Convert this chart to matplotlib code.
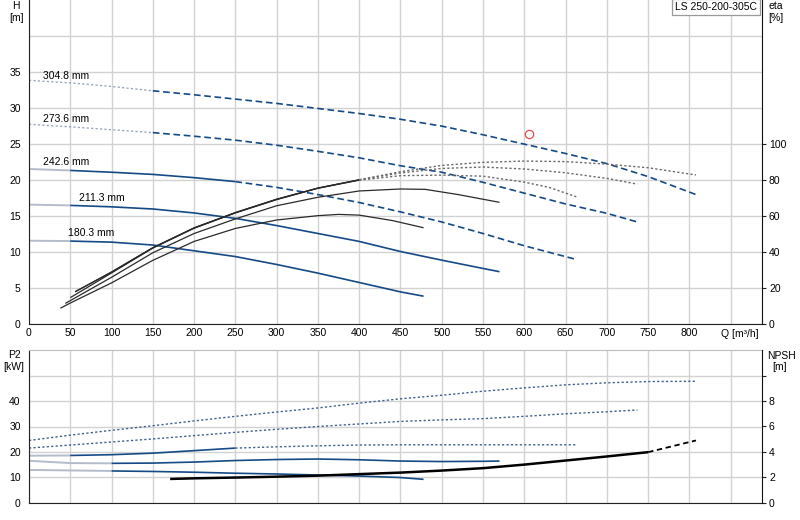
import matplotlib
matplotlib.use("Agg")
import matplotlib.pyplot as plt

plt.rcParams["font.family"] = ["Liberation Sans", "DejaVu Sans"]
plt.rcParams["font.size"] = 7.5

# impeller diameters
diameters = ["304.8 mm", "273.6 mm", "242.6 mm", "211.3 mm", "180.3 mm"]

# flow grids for head and power (m3/h)
q_305 = [0, 50, 100, 150, 200, 250, 300, 350, 400, 450, 500, 550, 600, 650, 700, 750, 808]
q_274 = [0, 50, 100, 150, 200, 250, 300, 350, 400, 450, 500, 550, 600, 650, 700, 737]
q_243 = [0, 50, 100, 150, 200, 250, 300, 350, 400, 450, 500, 550, 600, 663]
q_211 = [0, 50, 100, 150, 200, 250, 300, 350, 400, 450, 500, 550, 570]
q_180 = [0, 50, 100, 150, 200, 250, 300, 350, 400, 450, 478]

# head H (m)
h_305 = [33.85, 33.5, 33.0, 32.4, 31.85, 31.25, 30.65, 29.95, 29.25, 28.45, 27.5, 26.3, 25.0, 23.7, 22.3, 20.5, 18.0]
h_274 = [27.75, 27.4, 27.0, 26.6, 26.1, 25.55, 24.85, 24.0, 23.1, 22.0, 21.1, 19.7, 18.2, 16.7, 15.4, 14.2]
h_243 = [21.55, 21.35, 21.1, 20.8, 20.35, 19.8, 19.0, 18.0, 16.9, 15.6, 14.2, 12.6, 10.9, 9.0]
h_211 = [16.6, 16.5, 16.3, 16.0, 15.45, 14.7, 13.7, 12.6, 11.5, 10.1, 8.9, 7.75, 7.3]
h_180 = [11.6, 11.55, 11.4, 11.0, 10.2, 9.4, 8.3, 7.1, 5.8, 4.5, 3.9]

# shaft power P2 (kW)
p2_305 = [24.5, 26.6, 28.5, 30.3, 32.2, 34.0, 35.7, 37.3, 39.2, 40.9, 42.3, 43.9, 45.2, 46.4, 47.2, 47.7, 47.8]
p2_274 = [21.5, 22.7, 23.9, 25.1, 26.4, 27.7, 28.9, 30.0, 31.0, 32.0, 32.6, 33.1, 34.0, 35.0, 35.8, 36.5]
p2_243 = [18.5, 18.6, 18.9, 19.5, 20.5, 21.5, 22.0, 22.4, 22.7, 22.8, 22.8, 22.8, 22.8, 22.8]
p2_211 = [16.5, 15.6, 15.5, 15.6, 16.0, 16.6, 17.0, 17.2, 16.9, 16.4, 16.2, 16.3, 16.4]
p2_180 = [12.9, 12.7, 12.5, 12.3, 12.0, 11.6, 11.3, 10.9, 10.5, 9.9, 9.2]

# efficiency eta (%)
q_eta_305 = [56, 100, 150, 200, 250, 300, 350, 400, 450, 500, 550, 600, 650, 700, 750, 808]
eta_305 = [18.1, 29.0, 42.5, 53.5, 62.0, 69.4, 75.6, 80.2, 84.7, 88.2, 89.9, 90.6, 90.3, 88.9, 86.9, 82.9]
q_eta_274 = [56, 100, 150, 200, 250, 300, 350, 400, 450, 500, 550, 600, 650, 700, 737]
eta_274 = [18.1, 29.0, 42.5, 53.5, 62.0, 69.4, 75.6, 80.2, 84.0, 86.5, 87.3, 86.2, 84.1, 81.0, 77.8]
q_eta_243 = [50, 100, 150, 200, 250, 300, 350, 400, 450, 500, 550, 600, 630, 663]
eta_243 = [14.8, 28.5, 42.3, 53.3, 61.8, 69.2, 75.5, 80.0, 82.5, 82.8, 82.2, 78.9, 76.0, 70.8]
q_eta_211 = [44, 100, 150, 200, 250, 300, 350, 400, 450, 480, 520, 570]
eta_211 = [11.6, 26.1, 39.7, 50.4, 58.5, 65.8, 70.5, 74.0, 75.1, 74.9, 72.0, 67.7]
q_eta_180 = [38, 50, 100, 150, 200, 250, 300, 350, 375, 400, 440, 478]
eta_180 = [8.9, 11.8, 23.0, 35.5, 46.0, 53.2, 57.9, 60.3, 61.0, 60.6, 57.6, 53.6]

# NPSH (m)
q_npsh = [171, 200, 250, 300, 350, 400, 450, 500, 550, 600, 650, 700, 750, 808]
npsh = [1.87, 1.92, 1.98, 2.05, 2.13, 2.25, 2.37, 2.53, 2.72, 3.0, 3.32, 3.64, 3.98, 4.9]

# duty point
duty_q = [606]
duty_h = [26.4]

x_ticks = list(range(0, 851, 50))

BLUE = "#154a87"
LIGHT = "#b4bccb"
DOT = (0, (1.6, 1.6))
DASH = (0, (4, 2.2))

st_light_dot = dict(color="#9aa7bd", ls=DOT, lw=1.0)
st_light = dict(color=LIGHT, ls="-", lw=1.4)
st_blue = dict(color=BLUE, ls="-", lw=1.2)
st_blue_dash = dict(color=BLUE, ls=DASH, lw=1.2)
st_blue_dot = dict(color="#3f628f", ls=DOT, lw=1.0)
st_eta = dict(color="#2a2a2a", ls="-", lw=0.9)
st_eta_dot = dict(color="#6a6a6a", ls=DOT, lw=1.0)


def draw(ax, q, v, pieces):
    """pieces: list of (q_end, style); segments share their break point."""
    start = q[0]
    for q_end, style in pieces:
        xs = [a for a in q if start <= a <= q_end]
        ys = [b for a, b in zip(q, v) if start <= a <= q_end]
        ax.plot(xs, ys, solid_capstyle="butt", dash_capstyle="butt", **style)
        start = q_end


def style_axes(ax):
    ax.set_xlim(0, 888)
    ax.set_xticks(x_ticks)
    ax.grid(True, color="#d2d2d2", lw=1.0)
    ax.set_axisbelow(True)
    ax.tick_params(axis="both", length=0, pad=3, labelsize=7.5)
    for s in ("left", "bottom"):
        ax.spines[s].set_color("#222222")
    ax.spines["right"].set_visible(False)


fig = plt.figure(figsize=(8, 5.2), dpi=100)
ax_h = fig.add_axes([29 / 800, 1 - 324.3 / 520, 733 / 800, 324.3 / 520])
ax_p = fig.add_axes([29 / 800, 1 - 502.7 / 520, 733 / 800, 152.4 / 520])

# ---- head / efficiency panel
style_axes(ax_h)
ax_h.spines["top"].set_visible(False)
ax_h.set_ylim(0, 45)
ax_h.set_yticks(range(0, 41, 5))
ax_h.set_yticklabels([str(v) for v in range(0, 36, 5)] + [""])
ax_h.set_xticklabels([str(v) for v in x_ticks[:-1]] + [""])
ax_h.tick_params(axis="y", pad=6)

draw(ax_h, q_305, h_305, [(150, st_light_dot), (808, st_blue_dash)])
draw(ax_h, q_274, h_274, [(150, st_light_dot), (737, st_blue_dash)])
draw(ax_h, q_243, h_243, [(50, st_light), (250, st_blue), (663, st_blue_dash)])
draw(ax_h, q_211, h_211, [(50, st_light), (570, st_blue)])
draw(ax_h, q_180, h_180, [(50, st_light), (478, st_blue)])

label_pos = [(17, 34.5), (17, 28.5), (17, 22.5), (61, 17.5), (47, 12.7)]
for name, (lx, ly) in zip(diameters, label_pos):
    ax_h.text(lx, ly, name, ha="left", va="center", fontsize=7.5)

ax_h.plot(duty_q, duty_h, "o", mfc="none", mec="#e5393b", ms=6, mew=0.8)

ax_e = ax_h.twinx()
ax_e.set_ylim(0, 180)
ax_e.set_yticks(range(0, 101, 20))
ax_e.tick_params(axis="y", length=3, pad=2, labelsize=7.5, color="#222222")
for s in ("top", "left", "bottom"):
    ax_e.spines[s].set_visible(False)
ax_e.spines["right"].set_color("#111111")

draw(ax_e, q_eta_305, eta_305, [(400, st_eta), (808, st_eta_dot)])
draw(ax_e, q_eta_274, eta_274, [(400, st_eta), (737, st_eta_dot)])
draw(ax_e, q_eta_243, eta_243, [(400, st_eta), (663, st_eta_dot)])
draw(ax_e, q_eta_211, eta_211, [(570, st_eta)])
draw(ax_e, q_eta_180, eta_180, [(478, st_eta)])

ax_e.text(0.9935, 0.993, "LS 250-200-305C", transform=ax_e.transAxes,
          ha="right", va="top", fontsize=7.5,
          bbox=dict(boxstyle="square,pad=0.3", fc="white", ec="#9a9a9a", lw=0.9))

# ---- power / NPSH panel
style_axes(ax_p)
ax_p.spines["top"].set_color("#bdbdbd")
ax_p.set_ylim(0, 60)
ax_p.set_yticks(range(0, 51, 10))
ax_p.set_yticklabels([str(v) for v in range(0, 41, 10)] + [""])
ax_p.set_xticklabels([])
ax_p.tick_params(axis="y", pad=6)

draw(ax_p, q_305, p2_305, [(808, st_blue_dot)])
draw(ax_p, q_274, p2_274, [(737, st_blue_dot)])
draw(ax_p, q_243, p2_243, [(50, st_light), (250, st_blue), (663, st_blue_dot)])
draw(ax_p, q_211, p2_211, [(100, st_light), (570, st_blue)])
draw(ax_p, q_180, p2_180, [(100, st_light), (478, st_blue)])

ax_n = ax_p.twinx()
ax_n.set_ylim(0, 12)
ax_n.set_yticks(range(0, 11, 2))
ax_n.set_yticklabels([str(v) for v in range(0, 9, 2)] + [""])
ax_n.tick_params(axis="y", length=3, pad=2, labelsize=7.5, color="#222222")
for s in ("top", "left", "bottom"):
    ax_n.spines[s].set_visible(False)
ax_n.spines["right"].set_color("#111111")
draw(ax_n, q_npsh, npsh, [(750, dict(color="black", ls="-", lw=1.8)),
                          (808, dict(color="black", ls=(0, (3, 2)), lw=1.3))])

# axis titles
fig.text(16 / 800, 1 - 6 / 520, "H", ha="center", va="center", fontsize=7.5)
fig.text(17 / 800, 1 - 18 / 520, "[m]", ha="center", va="center", fontsize=7.5)
fig.text(776 / 800, 1 - 6 / 520, "eta", ha="center", va="center", fontsize=7.5)
fig.text(776 / 800, 1 - 18 / 520, "[%]", ha="center", va="center", fontsize=7.5)
fig.text(740 / 800, 1 - 334 / 520, "Q [m\u00b3/h]", ha="center", va="center", fontsize=7.5)
fig.text(14 / 800, 1 - 355 / 520, "P2", ha="center", va="center", fontsize=7.5)
fig.text(14 / 800, 1 - 367 / 520, "[kW]", ha="center", va="center", fontsize=7.5)
fig.text(781 / 800, 1 - 356 / 520, "NPSH", ha="center", va="center", fontsize=7.5)
fig.text(780 / 800, 1 - 367 / 520, "[m]", ha="center", va="center", fontsize=7.5)

fig.savefig("out.png", dpi=100, facecolor="white")
plt.close(fig)
